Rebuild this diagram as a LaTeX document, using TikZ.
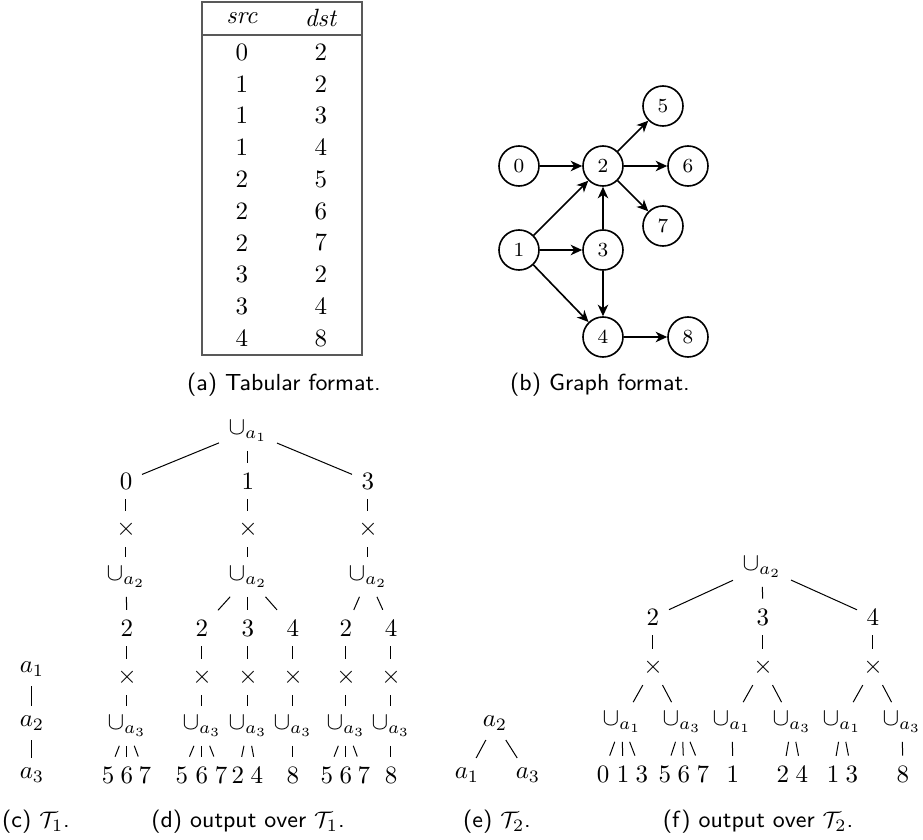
\documentclass[tikz,border=0pt]{standalone}
\usepackage{fontspec}
\usetikzlibrary{arrows.meta}
\newcommand\tf{\fontsize{10pt}{12pt}\selectfont}
\newcommand\gf{\fontsize{8pt}{9.6pt}\selectfont}
\newcommand\cf{\fontsize{9.3pt}{11pt}\selectfont\sffamily}
\begin{document}
\begin{tikzpicture}[x=0.4pt,y=-0.4pt,
  tn/.style={inner sep=3.7pt,font=\tf},
  gn/.style={circle,draw,line width=0.65pt,minimum size=16pt,inner sep=0pt,font=\gf},
  ga/.style={line width=0.65pt,-{Stealth[length=4.6pt,width=4.2pt,inset=1.4pt]}},
  te/.style={line width=0.4pt},
  captext/.style={font=\cf,inner sep=0pt}]
\useasboundingbox (0,0) rectangle (923,840);
% ---------- (a) table
\draw[black!65,line width=0.5pt] (202,2) rectangle (362,355);
\draw[black!65,line width=0.5pt] (202,35) -- (362,35);
\node[tn] (hs) at (242,18) {\textit{src}};
\node[tn] (hd) at (321,18) {\textit{dst}};
\foreach \s/\d [count=\i from 0] in {0/2,1/2,1/3,1/4,2/5,2/6,2/7,3/2,3/4,4/8}{
  \node[tn] (s\i) at (242,{52+31.8*\i}) {\s};
  \node[tn] (d\i) at (321,{52+31.8*\i}) {\d};
}
\node[captext] (capa) at (284,385) {(a) Tabular format.};
% ---------- (b) graph
\node[gn] (g0) at (519,166) {0};
\node[gn] (g2) at (603,166) {2};
\node[gn] (g5) at (663,106) {5};
\node[gn] (g6) at (688,166) {6};
\node[gn] (g7) at (663,226) {7};
\node[gn] (g1) at (519,250) {1};
\node[gn] (g3) at (603,250) {3};
\node[gn] (g4) at (603,337) {4};
\node[gn] (g8) at (688,337) {8};
\draw[ga] (g0) -- (g2);
\draw[ga] (g1) -- (g2);
\draw[ga] (g1) -- (g3);
\draw[ga] (g1) -- (g4);
\draw[ga] (g3) -- (g2);
\draw[ga] (g3) -- (g4);
\draw[ga] (g2) -- (g5);
\draw[ga] (g2) -- (g6);
\draw[ga] (g2) -- (g7);
\draw[ga] (g4) -- (g8);
\node[captext] (capb) at (600,385) {(b) Graph format.};
% ---------- (c)
\node[tn] (c1) at (32,669) {$a_1$};
\node[tn] (c2) at (32,723) {$a_2$};
\node[tn] (c3) at (32,775) {$a_3$};
\draw[te] (c1) -- (c2);
\draw[te] (c2) -- (c3);
\node[captext] (capc) at (36,822) {(c) $\mathcal{T}_1$.};
% ---------- (d)
\node[tn] (U) at (248,431) {$\cup_{a_1}$};
\node[tn] (d0) at (126,481) {0};
\node[tn] (d1) at (248,481) {1};
\node[tn] (d3) at (368,481) {3};
\foreach \n/\x in {0/126,1/248,3/368}{
  \node[tn] (dx\n) at (\x,529) {$\times$};
  \node[tn] (du\n) at (\x,577) {$\cup_{a_2}$};
  \draw[te] (U) -- (d\n);
  \draw[te] (d\n) -- (dx\n);
  \draw[te] (dx\n) -- (du\n);
}
\foreach \n/\x/\v/\p in {0/127/2/du0,1/202/2/du1,2/248/3/du1,3/293/4/du1,4/346/2/du3,5/391/4/du3}{
  \node[tn] (e\n) at (\x,628) {\v};
  \node[tn] (ex\n) at (\x,677) {$\times$};
  \node[tn] (eu\n) at (\x,726) {$\cup_{a_3}$};
  \draw[te] (\p) -- (e\n);
  \draw[te] (e\n) -- (ex\n);
  \draw[te] (ex\n) -- (eu\n);
}
\foreach \n/\x/\v/\p in {a/108/5/eu0,b/127/6/eu0,c/145/7/eu0,
  d/182/5/eu1,e/202/6/eu1,f/221/7/eu1,
  g/238/2/eu2,h/257/4/eu2,
  i/293/8/eu3,
  j/327/5/eu4,k/346/6/eu4,l/364/7/eu4,
  m/391/8/eu5}{
  \node[tn] (lf\n) at (\x,775) {\v};
  \draw[te] (\p) -- (lf\n);
}
\node[captext] (capd) at (248,822) {(d) output over $\mathcal{T}_1$.};
% ---------- (e)
\node[tn] (ea2) at (495,723) {$a_2$};
\node[tn] (ea1) at (467,775) {$a_1$};
\node[tn] (ea3) at (528,775) {$a_3$};
\draw[te] (ea2) -- (ea1);
\draw[te] (ea2) -- (ea3);
\node[captext] (cape) at (497,822) {(e) $\mathcal{T}_2$.};
% ---------- (f)
\node[tn] (F) at (762,567) {$\cup_{a_2}$};
\foreach \n/\x in {2/653,3/763,4/873}{
  \node[tn] (f\n) at (\x,617) {\n};
  \node[tn] (fx\n) at (\x,667) {$\times$};
  \draw[te] (F) -- (f\n);
  \draw[te] (f\n) -- (fx\n);
}
\foreach \n/\x/\s/\p in {a/622/1/fx2,b/682/3/fx2,c/732/1/fx3,d/792/3/fx3,e/842/1/fx4,f/902/3/fx4}{
  \node[tn] (fu\n) at (\x,722) {$\cup_{a_\s}$};
  \draw[te] (\p) -- (fu\n);
}
\foreach \n/\x/\v/\p in {a/603/0/fua,b/623/1/fua,c/642/3/fua,
  d/665/5/fub,e/684/6/fub,f/703/7/fub,
  g/733/1/fuc,
  h/783/2/fud,i/802/4/fud,
  j/833/1/fue,k/852/3/fue,
  l/903/8/fuf}{
  \node[tn] (fl\n) at (\x,774) {\v};
  \draw[te] (\p) -- (fl\n);
}
\node[captext] (capf) at (758,822) {(f) output over $\mathcal{T}_2$.};
\end{tikzpicture}
\end{document}
